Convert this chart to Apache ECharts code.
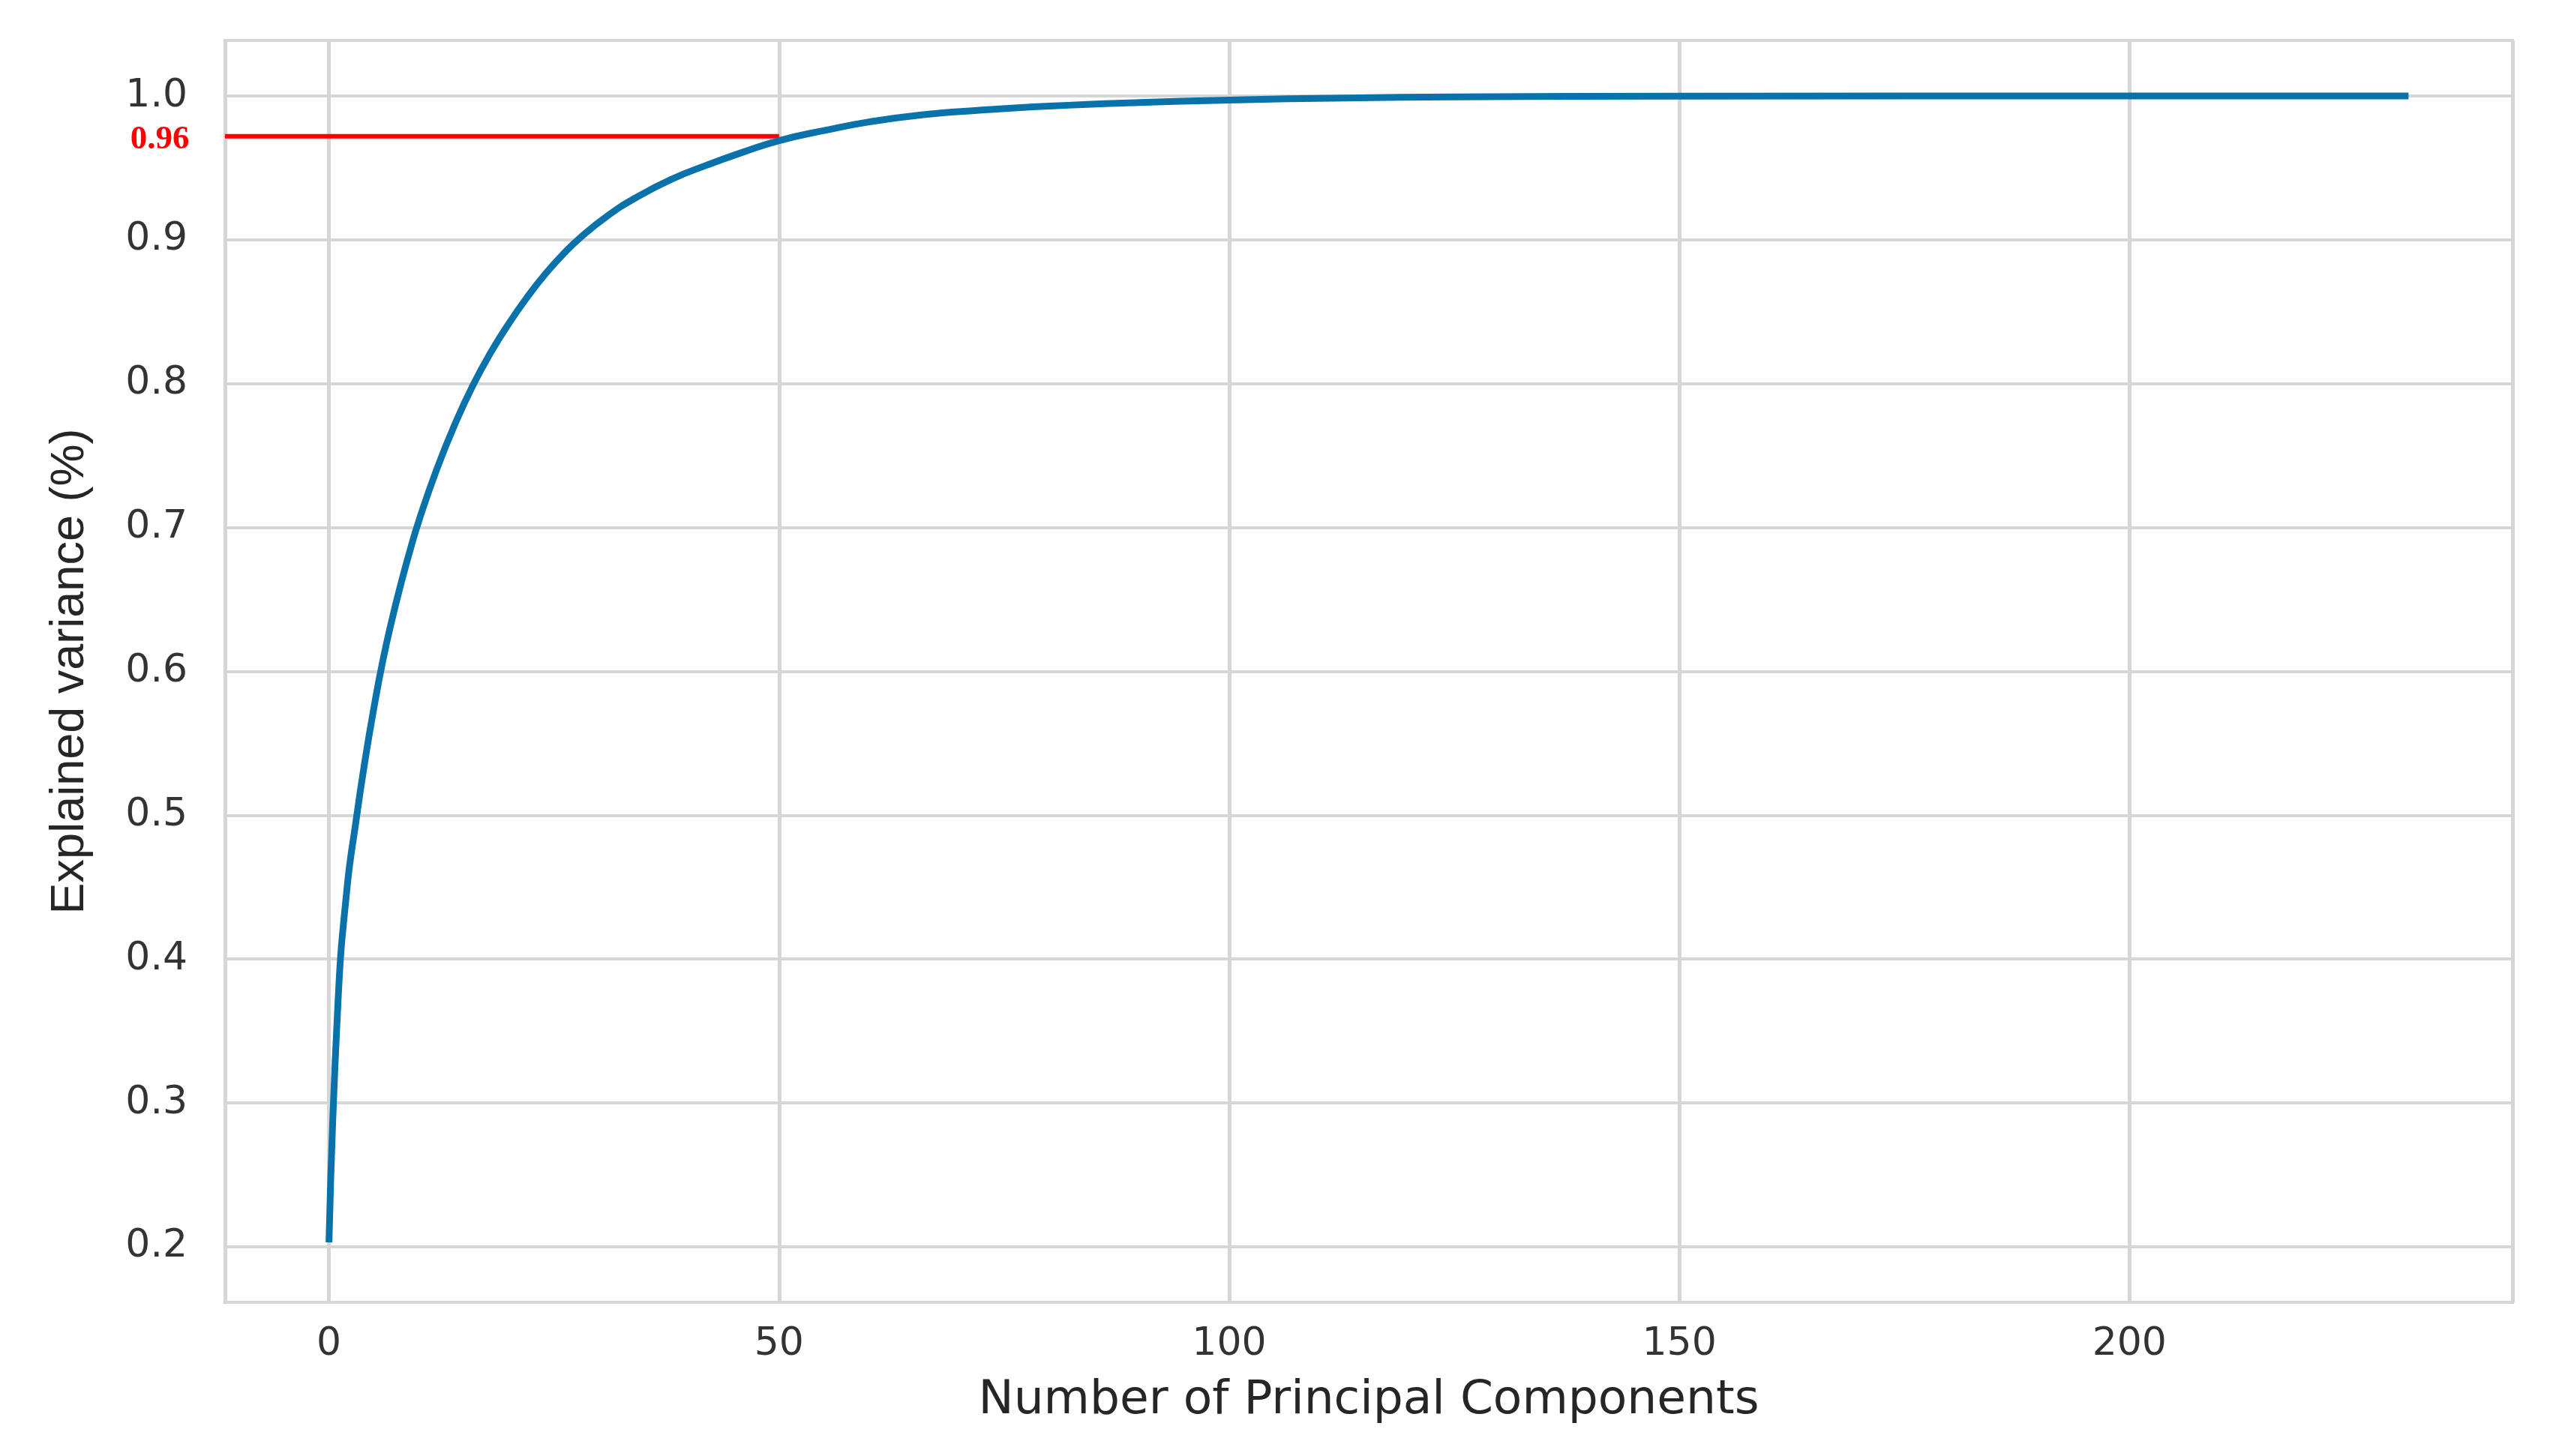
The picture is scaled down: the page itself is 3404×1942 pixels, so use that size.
<!DOCTYPE html>
<html lang="en" style="height: 100%">
<head>
    <meta charset="UTF-8">
    <title>Explained variance</title>
    <style>
        #main{
            width: 3404px;
            height: 1942px;
        }
    </style>
    <script src="https://cdn.jsdelivr.net/npm/echarts@6/dist/echarts.min.js"></script>
</head>
<body style="margin: 0; background: #ffffff">
<div id="main"></div>
<script>
    // cumulative explained variance
    var pcCount = [0, 1, 2, 3, 4, 5, 6, 7, 8, 9, 10, 12, 14, 16, 18, 20, 22, 24, 26, 28,
        31, 34, 38, 42, 46, 50, 55, 60, 66, 72, 80, 90, 100, 113, 125, 150, 200, 231];
    var explainedVar = [0.203, 0.37, 0.449, 0.496, 0.538, 0.575, 0.608, 0.636, 0.661, 0.684,
        0.705, 0.741, 0.772, 0.799, 0.822, 0.842, 0.860, 0.876, 0.890, 0.902,
        0.917, 0.929, 0.942, 0.952, 0.961, 0.969, 0.976, 0.982, 0.987, 0.990,
        0.993, 0.9955, 0.9972, 0.9986, 0.9994, 0.9999, 1.0, 1.0];

    // red threshold line (drawn up to 50 components)
    var thresholdLabel = '0.96';
    var thresholdValue = 0.972;
    var thresholdEndX = 50;

    var xMin = -11.55, xMax = 242.55;
    var yMin = 0.1614, yMax = 1.0386;

    var chart = echarts.init(document.getElementById('main'));

    var curve = [];
    for (var i = 0; i < pcCount.length; i++) {
        curve.push([pcCount[i], explainedVar[i]]);
    }

    var option = {
        animation: false,
        backgroundColor: '#ffffff',
        grid: {
            left: 300,
            right: 54,
            top: 54,
            bottom: 205,
            show: true,
            borderColor: '#d0d0d0',
            borderWidth: 4,
            outerBoundsMode: 'none'
        },
        xAxis: {
            type: 'value',
            min: xMin,
            max: xMax,
            splitNumber: 5,
            name: 'Number of Principal Components',
            nameLocation: 'middle',
            nameGap: 100,
            nameTextStyle: {
                fontFamily: 'DejaVu Sans',
                fontSize: 63,
                color: '#262626'
            },
            axisLine: {show: false},
            axisTick: {show: false},
            axisLabel: {
                margin: 30,
                fontFamily: 'DejaVu Sans',
                fontSize: 52,
                color: '#333333',
                showMinLabel: false,
                showMaxLabel: false
            },
            splitLine: {
                show: true,
                lineStyle: {color: '#d6d6d6', width: 5}
            }
        },
        yAxis: {
            type: 'value',
            min: yMin,
            max: yMax,
            splitNumber: 9,
            name: 'Explained variance (%)',
            nameLocation: 'middle',
            nameRotate: 90,
            nameGap: 175,
            nameTextStyle: {
                fontFamily: 'Liberation Sans',
                fontSize: 63,
                color: '#262626'
            },
            axisLine: {show: false},
            axisTick: {show: false},
            axisLabel: {
                margin: 50,
                fontFamily: 'DejaVu Sans',
                fontSize: 52,
                color: '#333333',
                showMinLabel: false,
                showMaxLabel: false,
                formatter: function (v) {
                    return v.toFixed(1);
                }
            },
            splitLine: {
                show: true,
                lineStyle: {color: '#d6d6d6', width: 4}
            }
        },
        series: [
            {
                name: 'threshold',
                type: 'line',
                symbol: 'circle',
                symbolSize: 1,
                showSymbol: true,
                silent: true,
                itemStyle: {color: '#ff0000'},
                lineStyle: {color: '#ff0000', width: 6},
                label: {show: false},
                data: [
                    {
                        value: [xMin, thresholdValue],
                        label: {
                            show: true,
                            position: 'left',
                            distance: 47,
                            offset: [0, 5],
                            formatter: thresholdLabel,
                            color: '#ff0000',
                            fontFamily: 'Liberation Serif',
                            fontWeight: 'bold',
                            fontSize: 45
                        }
                    },
                    [thresholdEndX, thresholdValue]
                ],
                z: 3
            },
            {
                name: 'Explained variance',
                type: 'line',
                symbol: 'none',
                smooth: 0.5,
                lineStyle: {color: '#0a72ab', width: 9},
                data: curve,
                z: 4
            }
        ]
    };

    chart.setOption(option);

    window.onresize = function () {
        chart.resize();
    };
</script>
</body>
</html>
